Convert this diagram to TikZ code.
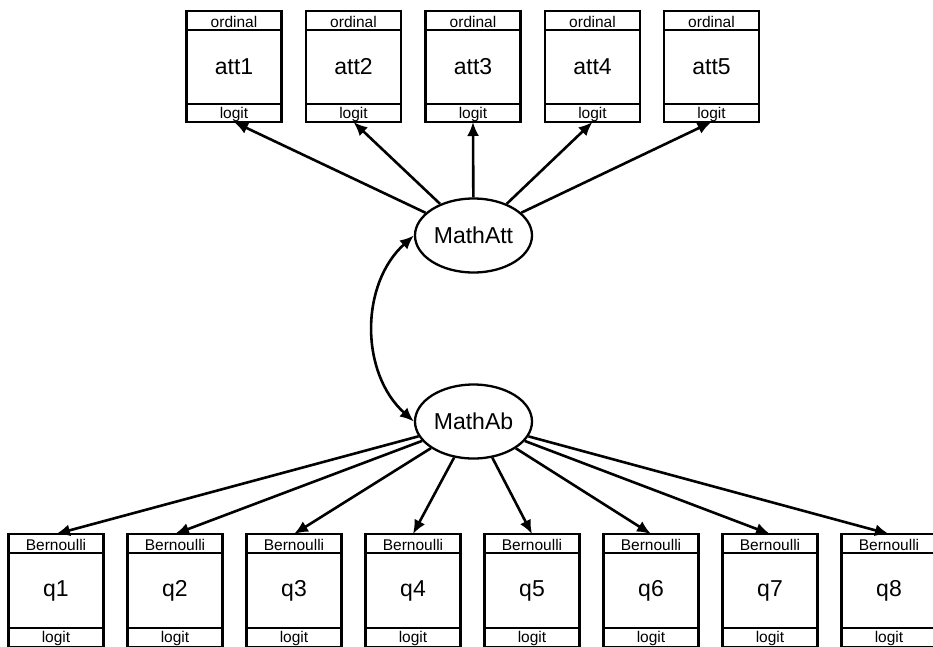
\documentclass[tikz,border=0pt]{standalone}
\usepackage{fontspec}
\setmainfont{Liberation Sans}
\usetikzlibrary{shapes.geometric,arrows.meta}
\begin{document}
\begin{tikzpicture}[x=1pt,y=-1pt,
  obsbox/.style={draw, line width=2.7pt, rectangle, minimum width=95pt, minimum height=111pt,
    inner sep=0pt, outer sep=0pt, font=\fontsize{23}{23}\selectfont},
  latent/.style={draw, line width=2.3pt, ellipse, minimum width=117pt, minimum height=74pt,
    inner sep=0pt, font=\fontsize{23}{23}\selectfont},
  small/.style={font=\fontsize{15.5}{15.5}\selectfont, inner sep=0pt, anchor=base},
  sepline/.style={line width=2.1pt},
  conn/.style={line width=2.6pt, -{Latex[length=14pt,width=12pt]}},
  dconn/.style={line width=2.6pt, {Latex[length=14pt,width=12pt]}-{Latex[length=14pt,width=12pt]}},
]
\useasboundingbox (0,0) rectangle (933,646);
\clip (0,0) rectangle (933,646);

% latent variables
\node[latent] (MathAtt) at (473.5,235.5) {MathAtt};
\node[latent] (MathAb) at (473.5,421.5) {MathAb};

% top observed boxes
\foreach \i/\x in {1/234,2/353.5,3/473,4/592.5,5/711.5}{
  \node[obsbox] (att\i) at (\x,66.5) {att\i};
  \draw[sepline] ([yshift=-19pt]att\i.north west) -- ([yshift=-19pt]att\i.north east);
  \draw[sepline] ([yshift=18pt]att\i.south west) -- ([yshift=18pt]att\i.south east);
  \node[small] (att\i fam) at ([yshift=-16.5pt]att\i.north) {ordinal};
  \node[small] (att\i lnk) at ([yshift=3.5pt]att\i.south) {logit};
  \draw[conn] (MathAtt) -- (att\i.south);
}

% bottom observed boxes
\foreach \i/\x in {1/56,2/175,3/294,4/413,5/532,6/651,7/770,8/889}{
  \node[obsbox, minimum height=113pt] (q\i) at (\x,590.5) {q\i};
  \draw[sepline] ([yshift=-19pt]q\i.north west) -- ([yshift=-19pt]q\i.north east);
  \draw[sepline] ([yshift=19pt]q\i.south west) -- ([yshift=19pt]q\i.south east);
  \node[small] (q\i fam) at ([yshift=-16.5pt]q\i.north) {Bernoulli};
  \node[small] (q\i lnk) at ([yshift=4.5pt]q\i.south) {logit};
  \draw[conn] (MathAb) -- (q\i.north);
}

% covariance
\draw[dconn] (MathAtt.west) to[bend right=48] (MathAb.west);
\end{tikzpicture}
\end{document}
